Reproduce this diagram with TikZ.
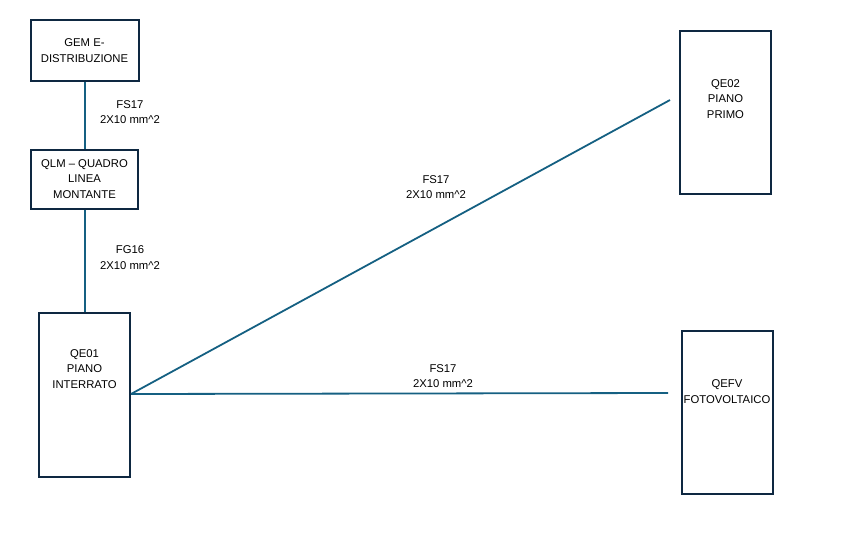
\documentclass[tikz,border=0pt]{standalone}
\usepackage{fontspec}
\setmainfont{Liberation Sans}
\usepackage{tikz}
\usetikzlibrary{positioning}
\definecolor{boardline}{HTML}{0E2841}
\definecolor{cableline}{HTML}{156082}
\tikzset{
  board/.style={draw=boardline,line width=2pt,inner sep=0pt,align=center,fill=white},
  tag/.style={align=center,inner sep=0pt},
  cable/.style={draw=cableline,line width=1.8pt}
}

\begin{document}
\begin{tikzpicture}[x=1pt,y=-1pt,font=\fontsize{11.3}{15.5}\selectfont]
\useasboundingbox (0,0) rectangle (842,551);
\node[board,minimum width=108pt,minimum height=60pt] (gem) at (84.5,50.5) {GEM E-\\DISTRIBUZIONE};
\node[board,minimum width=107pt,minimum height=59pt] (qlm) at (84.5,179) {QLM -- QUADRO\\LINEA\\MONTANTE};
\node[board,minimum width=91pt,minimum height=164pt,
  label={[tag,yshift=26pt]center:QE01\\PIANO\\INTERRATO}] (qe01) at (84.5,395) {};
\node[board,minimum width=91pt,minimum height=163pt,
  label={[tag,yshift=13.5pt]center:QE02\\PIANO\\PRIMO}] (qe02) at (725.5,112.5) {};
\node[board,minimum width=91pt,minimum height=163pt,
  label={[tag,yshift=21pt]center:QEFV\\FOTOVOLTAICO}] (qefv) at (727,412.5) {};
\coordinate (endprimo) at (670,100);
\coordinate (endfv) at (668,393);
\draw[cable] (gem.south -| 85,0) -- (qlm.north -| 85,0);
\draw[cable] (qlm.south -| 85,0) -- (qe01.north -| 85,0);
\draw[cable] (qe01.east |- 0,394) -- (endprimo);
\draw[cable] (qe01.east |- 0,394) -- (endfv);
\node[tag] (c1) at (130,112) {FS17\\2X10 mm\^{}2};
\node[tag] (c2) at (130,257.5) {FG16\\2X10 mm\^{}2};
\node[tag] (c3) at (436,187) {FS17\\2X10 mm\^{}2};
\node[tag] (c4) at (443,376) {FS17\\2X10 mm\^{}2};
\end{tikzpicture}
\end{document}
